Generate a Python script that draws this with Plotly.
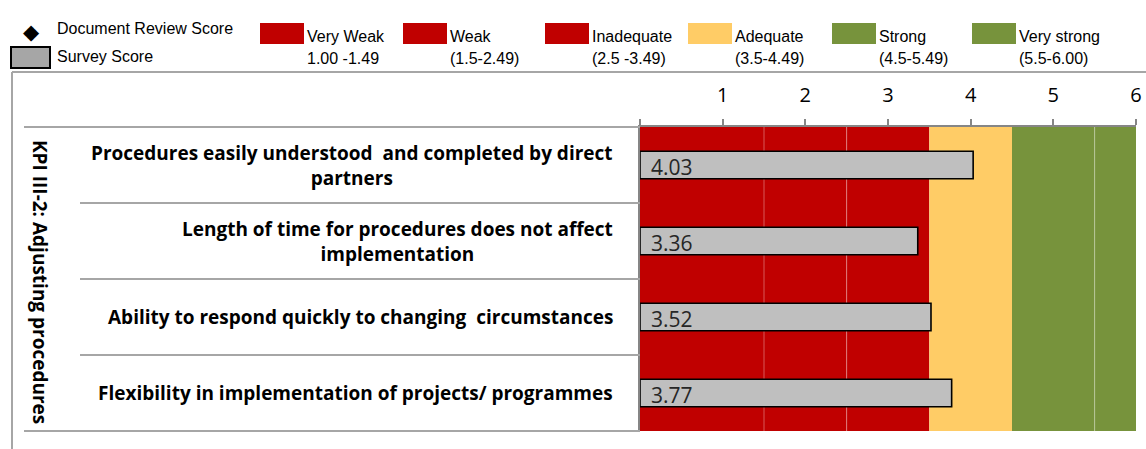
import plotly.graph_objects as go

# ---------------- data ----------------
categories = [
    "Procedures easily understood  and completed by direct<br>partners",
    "Length of time for procedures does not affect<br>implementation",
    "Ability to respond quickly to changing  circumstances",
    "Flexibility in implementation of projects/ programmes",
]
survey_scores = [4.03, 3.36, 3.52, 3.77]

band_names = ["Very Weak", "Weak", "Inadequate", "Adequate", "Strong", "Very strong"]
band_range_labels = ["1.00 -1.49", "(1.5-2.49)", "(2.5 -3.49)", "(3.5-4.49)", "(4.5-5.49)", "(5.5-6.00)"]
band_starts = [0, 1.5, 2.5, 3.5, 4.5, 5.5]
band_ends = [1.5, 2.5, 3.5, 4.5, 5.5, 6.0]
band_colors = ["#C00000", "#C00000", "#C00000", "#FFCC66", "#77933C", "#77933C"]

tick_values = [0, 1, 2, 3, 4, 5, 6]
tick_labels = ["", "1", "2", "3", "4", "5", "6"]

group_title = "KPI III-2: Adjusting procedures"
legend_doc = "Document Review Score"
legend_survey = "Survey Score"

# ---------------- layout helpers ----------------
W, H = 1146, 449
def px(x):
    return x / W
def py(y):
    return 1 - y / H

PLOT_L, PLOT_R, PLOT_T, PLOT_B = 640, 1136, 127, 431
LABEL_FONT = "'Open Sans', Lato, sans-serif"
LEG_FONT = "'Liberation Sans', Arial, sans-serif"
GRID_GRAY = "#A6A6A6"
AXIS_GRAY = "#868686"

fig = go.Figure()
fig.add_trace(go.Bar(
    x=survey_scores, y=categories, orientation="h",
    width=0.36,
    marker=dict(color="#BFBFBF", line=dict(color="#000000", width=1.6)),
    hoverinfo="x+y", showlegend=False,
))

shapes = []
# background bands
for s, e, c in zip(band_starts, band_ends, band_colors):
    shapes.append(dict(type="rect", xref="x", yref="y domain", x0=s, x1=e, y0=0, y1=1,
                       fillcolor=c, line=dict(width=0), layer="below"))
# faint separators between same-coloured bands
for i in range(1, len(band_starts)):
    if band_colors[i] == band_colors[i - 1]:
        shapes.append(dict(type="line", xref="x", yref="y domain", x0=band_starts[i], x1=band_starts[i],
                           y0=0, y1=1, line=dict(color="rgba(255,255,255,0.35)", width=1), layer="below"))

# table lines on the left
n = len(categories)
band_h = (PLOT_B - PLOT_T) / n
shapes.append(dict(type="line", xref="paper", yref="paper", x0=px(24), x1=px(PLOT_L), y0=py(PLOT_T), y1=py(PLOT_T),
                   line=dict(color=GRID_GRAY, width=2)))
shapes.append(dict(type="line", xref="paper", yref="paper", x0=px(24), x1=px(PLOT_L), y0=py(PLOT_B), y1=py(PLOT_B),
                   line=dict(color=GRID_GRAY, width=2)))
for k in range(1, n):
    yy = PLOT_T + k * band_h
    shapes.append(dict(type="line", xref="paper", yref="paper", x0=px(80), x1=px(PLOT_L), y0=py(yy), y1=py(yy),
                       line=dict(color=GRID_GRAY, width=2)))
# outer frame
shapes.append(dict(type="line", xref="paper", yref="paper", x0=px(12), x1=1, y0=py(72), y1=py(72),
                   line=dict(color=GRID_GRAY, width=2)))
shapes.append(dict(type="line", xref="paper", yref="paper", x0=px(12), x1=px(12), y0=py(72), y1=0,
                   line=dict(color=GRID_GRAY, width=2)))

# legend: survey score swatch
shapes.append(dict(type="rect", xref="paper", yref="paper", x0=px(11), x1=px(50), y0=py(47), y1=py(68),
                   fillcolor="#A6A6A6", line=dict(color="#000000", width=2)))
# legend: band swatches
legend_x = [260, 403, 545, 688, 832, 972]
SW_W = 44
for lx, c in zip(legend_x, band_colors):
    shapes.append(dict(type="rect", xref="paper", yref="paper", x0=px(lx), x1=px(lx + SW_W), y0=py(23), y1=py(44),
                       fillcolor=c, line=dict(width=0)))

annotations = []
# category labels
for cat in categories:
    annotations.append(dict(xref="paper", yref="y", x=px(615), y=cat, xanchor="right", align="center",
                            text="<b>" + cat + "</b>", showarrow=False,
                            font=dict(family=LABEL_FONT, size=19, color="#000000")))
# value labels inside bars
for cat, v in zip(categories, survey_scores):
    annotations.append(dict(xref="x", yref="y", x=0, y=cat, xanchor="left", xshift=9, yshift=-2,
                            text=f"{v:.2f}", showarrow=False,
                            font=dict(family=LABEL_FONT, size=21, color="#262626")))
# rotated group title
annotations.append(dict(xref="paper", yref="paper", x=px(40), y=py(282), text="<b>" + group_title + "</b>",
                        textangle=90, showarrow=False, xanchor="center", yanchor="middle",
                        font=dict(family=LABEL_FONT, size=19, color="#000000")))
# legend texts
annotations.append(dict(xref="paper", yref="paper", x=px(31), y=py(32), text="\u25C6", showarrow=False,
                        xanchor="center", yanchor="middle", font=dict(family="DejaVu Sans", size=21, color="#000000")))
annotations.append(dict(xref="paper", yref="paper", x=px(55), y=py(28), text=legend_doc, showarrow=False,
                        xanchor="left", yanchor="middle", font=dict(family=LEG_FONT, size=16, color="#000000")))
annotations.append(dict(xref="paper", yref="paper", x=px(55), y=py(57), text=legend_survey, showarrow=False,
                        xanchor="left", yanchor="middle", font=dict(family=LEG_FONT, size=16, color="#000000")))
for lx, name, rng in zip(legend_x, band_names, band_range_labels):
    annotations.append(dict(xref="paper", yref="paper", x=px(lx + SW_W + 1), y=py(36), text=name, showarrow=False,
                            xanchor="left", yanchor="middle", font=dict(family=LEG_FONT, size=16, color="#000000")))
    annotations.append(dict(xref="paper", yref="paper", x=px(lx + SW_W + 1), y=py(58), text=rng, showarrow=False,
                            xanchor="left", yanchor="middle", font=dict(family=LEG_FONT, size=16, color="#000000")))

fig.update_layout(
    width=W, height=H,
    margin=dict(l=0, r=0, t=0, b=0, autoexpand=False),
    paper_bgcolor="#FFFFFF", plot_bgcolor="#FFFFFF",
    showlegend=False,
    shapes=shapes, annotations=annotations,
    xaxis=dict(domain=[px(PLOT_L), px(PLOT_R)], range=[0, 6], side="top", automargin=False,
               tickvals=tick_values, ticktext=tick_labels, ticks="outside", ticklen=6,
               tickcolor=AXIS_GRAY, tickwidth=2, showline=True, linecolor=AXIS_GRAY, linewidth=2,
               showgrid=False, zeroline=False, ticklabelstandoff=9,
               tickfont=dict(family=LABEL_FONT, size=20, color="#000000"), fixedrange=True),
    yaxis=dict(domain=[py(PLOT_B), py(PLOT_T)], categoryorder="array", categoryarray=categories,
               autorange="reversed", showticklabels=False, ticks="", showgrid=False, zeroline=False,
               automargin=False,
               showline=True, linecolor=AXIS_GRAY, linewidth=2, fixedrange=True),
)

fig.write_html(
    "out.html",
    config={"displayModeBar": False},
    post_script="document.body.style.margin='0px';document.body.style.overflow='hidden';",
)
